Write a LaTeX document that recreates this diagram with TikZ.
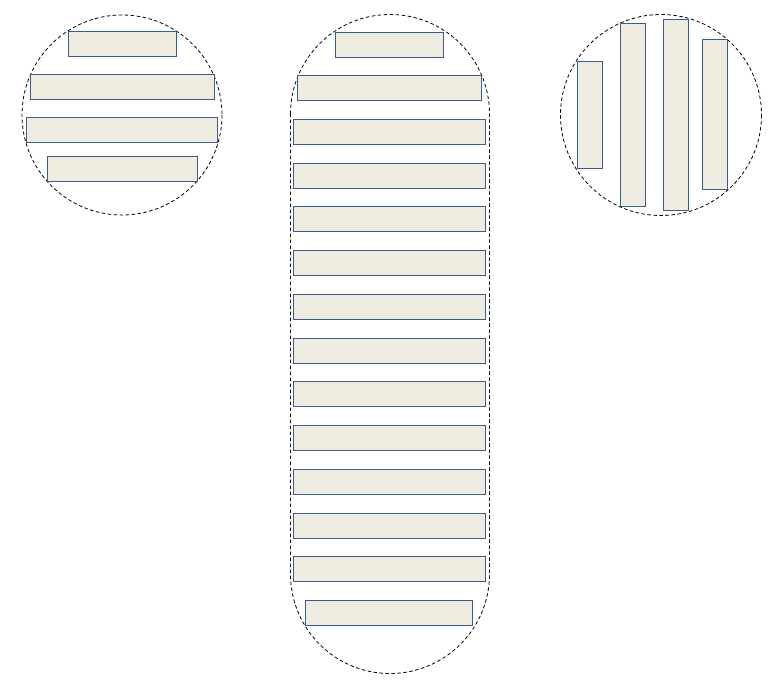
\documentclass[tikz,border=0pt]{standalone}
\definecolor{barfill}{HTML}{EEEBE0}
\definecolor{barline}{HTML}{3A5D8C}
\newcommand\mybar[5]{\node[bar,minimum width={(#4)-(#2)},minimum height={(#5)-(#3)}] (#1) at ({((#2)+(#4))/2},{((#3)+(#5))/2}) {};}
\begin{document}
\begin{tikzpicture}[x=1pt,y=-1pt,
  bar/.style={draw=barline,fill=barfill,line width=0.9pt,rectangle,inner sep=0pt,outer sep=0pt},
  zone/.style={draw=black,line width=0.8pt,dash pattern=on 3.5pt off 2.5pt}]
\useasboundingbox (0,0) rectangle (783,688);
% left group
\draw[zone] (122,115) circle (100);
\mybar{l1}{68.3}{31.7}{176.7}{56.3}
\mybar{l2}{30.3}{74.3}{214.7}{99.3}
\mybar{l3}{26.3}{117.3}{217.7}{142.3}
\mybar{l4}{47.3}{156.3}{197.3}{181.3}
% middle group
\draw[zone] (290.5,114) arc[start angle=180,end angle=360,radius=99.5] -- (489.5,574) arc[start angle=0,end angle=180,radius=99.5] -- cycle;
\mybar{m0}{335.3}{32.3}{443.7}{57.3}
\mybar{m1}{297.3}{75.3}{481.7}{100.3}
\foreach \i in {0,...,10}{
  \pgfmathsetmacro\ytop{119.3+43.75*\i}
  \pgfmathsetmacro\ybot{\ytop+25}
  \mybar{r\i}{293.3}{\ytop}{485.6}{\ybot}
}
\mybar{mb}{305.3}{600.3}{472.7}{625.3}
% right group
\draw[zone] (661,115) circle (100.5);
\mybar{v1}{577.3}{61.3}{602.3}{168.3}
\mybar{v2}{620.3}{23.3}{645.3}{206.3}
\mybar{v3}{663.3}{19.3}{688.3}{210.3}
\mybar{v4}{702.3}{39.3}{727.3}{189.3}
\end{tikzpicture}
\end{document}
